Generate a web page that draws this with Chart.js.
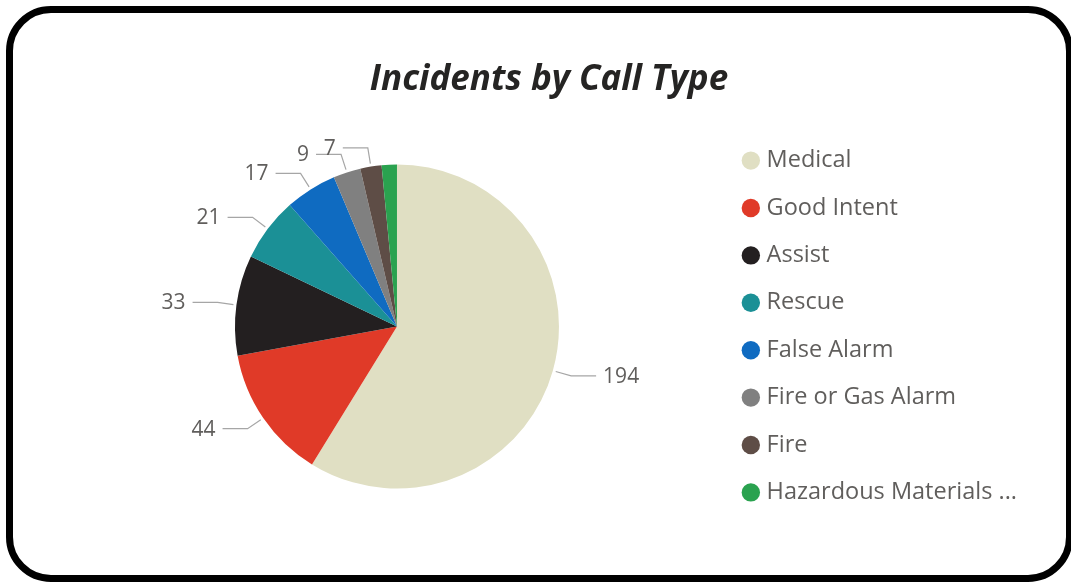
<!DOCTYPE html>
<html>
<head>
<meta charset="utf-8">
<script src="https://cdn.jsdelivr.net/npm/chart.js@4/dist/chart.umd.min.js"></script>
<style>
  html, body { margin: 0; padding: 0; background: #fff; overflow: hidden; }
  #frame {
    position: absolute; left: 6px; top: 6px; width: 1067px; height: 576px;
    box-sizing: border-box; border: 7px solid #000; border-radius: 45px;
  }
  #chart { position: absolute; left: 0; top: 0; }
</style>
</head>
<body>
<div id="frame"></div>
<canvas id="chart" width="1071" height="583"></canvas>
<script>
const callTypes = ['Medical', 'Good Intent', 'Assist', 'Rescue', 'False Alarm', 'Fire or Gas Alarm', 'Fire', 'Hazardous Materials ...']
const incidents = [194, 44, 33, 21, 17, 9, 7, 5]
const sliceColors = ['#e0dfc3', '#e03a28', '#231f20', '#1b9096', '#0f6bc1', '#808080', '#5e4d46', '#2aa24f']

const FONT = '"Segoe UI", "Open Sans", sans-serif'
const TEXT_GRAY = '#605e5c'

// outside labels with leader lines, placed from the arc elements
const outsideLabels = {
  id: 'outsideLabels',
  afterDatasetsDraw(chart) {
    const ctx = chart.ctx
    const meta = chart.getDatasetMeta(0)
    ctx.save()
    ctx.font = '21px ' + FONT
    ctx.textBaseline = 'middle'
    meta.data.forEach((arc, i) => {
      const value = chart.data.datasets[0].data[i]
      if (value < 6) return
      const { x, y, startAngle, endAngle, outerRadius } = arc.getProps(['x', 'y', 'startAngle', 'endAngle', 'outerRadius'], true)
      const mid = (startAngle + endAngle) / 2
      const cos = Math.cos(mid), sin = Math.sin(mid)
      const dir = cos >= 0 ? 1 : -1
      const p0 = { x: x + cos * (outerRadius + 3), y: y + sin * (outerRadius + 3) }
      const p1 = { x: x + cos * (outerRadius + 19), y: y + sin * (outerRadius + 19) }
      const p2 = { x: p1.x + dir * 25, y: p1.y }
      ctx.strokeStyle = '#a6a6a6'
      ctx.lineWidth = 1.2
      ctx.beginPath()
      ctx.moveTo(p0.x, p0.y)
      ctx.lineTo(p1.x, p1.y)
      ctx.lineTo(p2.x, p2.y)
      ctx.stroke()
      ctx.fillStyle = TEXT_GRAY
      ctx.textAlign = dir > 0 ? 'left' : 'right'
      ctx.fillText(String(value), p2.x + dir * 7, p2.y + 1)
    })
    ctx.restore()
  }
}

new Chart(document.getElementById('chart'), {
  type: 'pie',
  data: {
    labels: callTypes,
    datasets: [{
      data: incidents,
      backgroundColor: sliceColors,
      borderWidth: 0,
      radius: 162
    }]
  },
  options: {
    responsive: false,
    animation: false,
    layout: { padding: { left: 71, right: 44, top: 0, bottom: 42 } },
    plugins: {
      title: {
        display: true,
        text: 'Incidents by Call Type',
        color: '#252423',
        font: { family: FONT, size: 35, weight: 'bold', style: 'italic' },
        padding: { top: 59, bottom: 11 }
      },
      legend: {
        position: 'right',
        fullSize: false,
        labels: {
          usePointStyle: true,
          pointStyle: 'circle',
          boxHeight: 13,
          boxWidth: 8,
          padding: 23.9,
          color: TEXT_GRAY,
          font: { family: FONT, size: 23.5 }
        }
      },
      tooltip: { enabled: false }
    }
  },
  plugins: [outsideLabels]
})
</script>
</body>
</html>
